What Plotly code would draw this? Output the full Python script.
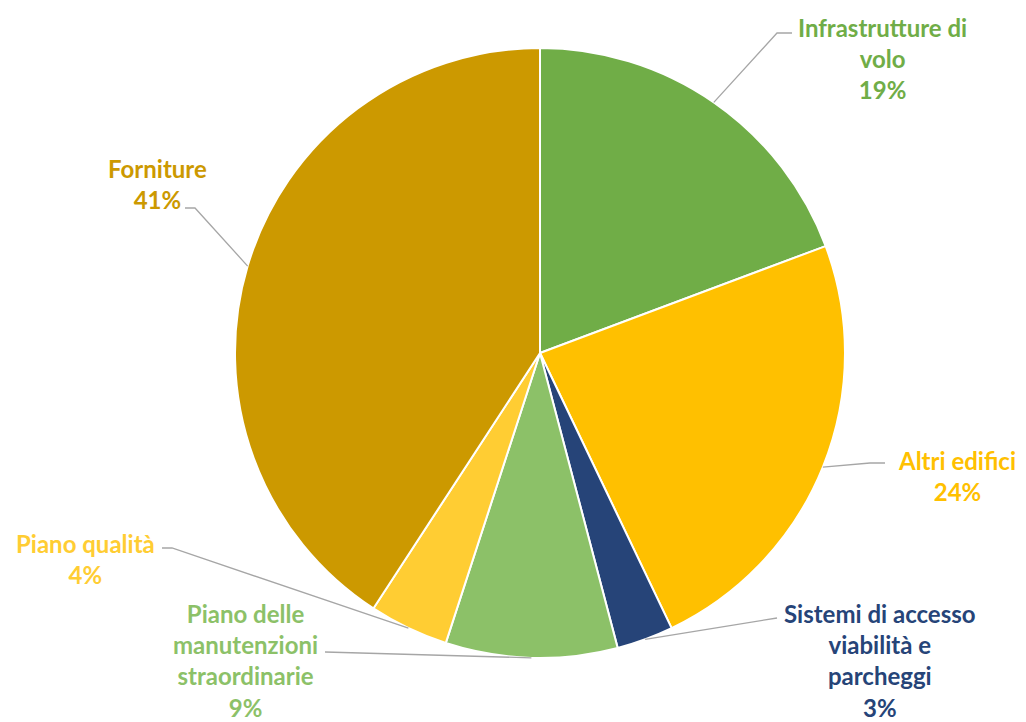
import math
import plotly.graph_objects as go

labels = ["Infrastrutture di volo", "Altri edifici", "Sistemi di accesso viabilità e parcheggi",
          "Piano delle manutenzioni straordinarie", "Piano qualità", "Forniture"]
label_text = ["Infrastrutture di<br>volo", "Altri edifici", "Sistemi di accesso<br>viabilità e<br>parcheggi",
              "Piano delle<br>manutenzioni<br>straordinarie", "Piano qualità", "Forniture"]
values = [19.3, 23.6, 3.0, 9.1, 4.2, 40.8]
colors = ["#70AD47", "#FFC000", "#264478", "#8CC168", "#FFCD33", "#CC9900"]

W, H = 1026, 722
CX, CY, R = 540, 353, 305

# label text centre (px) and leader elbow start/end (px)
label_pos = [(882, 58), (957, 476), (880, 660), (245, 660), (85, 559), (157, 184)]
elbows = [((792, 33), (777, 33)), ((885, 463), (870, 463)), ((777, 618), (777, 618)),
          ((325, 652), (325, 652)), ((162, 548), (172, 548)), ((185, 208), (195, 208))]

fig = go.Figure(go.Pie(
    labels=labels, values=values, sort=False, direction="clockwise", rotation=0,
    marker=dict(colors=colors, line=dict(color="white", width=2)),
    textinfo="none", hoverinfo="label+percent", showlegend=False,
    domain=dict(x=[(CX - R) / W, (CX + R) / W], y=[1 - (CY + R) / H, 1 - (CY - R) / H]),
))

total = sum(values)
cum = 0
annotations = []
shapes = []
for i, v in enumerate(values):
    mid = (cum + v / 2) / total * 2 * math.pi
    cum += v
    ex = CX + R * math.sin(mid)
    ey = CY - R * math.cos(mid)
    pct = round(v / total * 100)
    lx, ly = label_pos[i]
    annotations.append(dict(
        x=lx / W, y=1 - ly / H, xref="paper", yref="paper", showarrow=False,
        text=f"<b>{label_text[i]}<br>{pct}%</b>", align="center",
        font=dict(family="Lato", size=24, color=colors[i]),
        xanchor="center", yanchor="middle",
    ))
    (ax, ay), (bx, by) = elbows[i]
    path = f"M {ax/W} {1-ay/H} L {bx/W} {1-by/H} L {ex/W} {1-ey/H}"
    shapes.append(dict(type="path", path=path, xref="paper", yref="paper",
                       line=dict(color="#A6A6A6", width=1.3)))

fig.update_layout(
    width=W, height=H, margin=dict(l=0, r=0, t=0, b=0),
    paper_bgcolor="white", plot_bgcolor="white",
    annotations=annotations, shapes=shapes,
)
fig.write_html("out.html", config={"displayModeBar": False},
               post_script="document.body.style.margin='0';document.body.style.overflow='hidden';")
